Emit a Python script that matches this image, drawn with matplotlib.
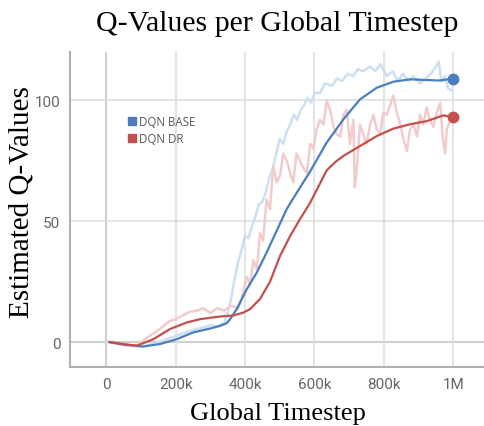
import numpy as np
import matplotlib.pyplot as plt
from matplotlib.lines import Line2D

# Q-values per global timestep
# x values in thousands of timesteps

# raw (faint) curves
base_raw_x = [10, 40, 70, 100, 130, 160, 190, 220, 250, 280, 300, 320, 340, 350,
              360, 370, 380, 390, 400, 410, 420, 430, 440, 450, 460, 470, 480,
              490, 500, 510, 520, 530, 540, 550, 560, 570, 580, 590, 600, 616,
              630, 650, 665, 680, 695, 711, 725, 740, 760, 775, 790, 808, 825,
              840, 855, 870, 885, 904, 920, 935, 950, 958, 965, 975, 985, 995]
base_raw_y = [0, -1, -1.5, -2, -1, 0.5, 2, 3.5, 5, 6, 7, 6.5, 8, 12,
              18, 26, 33, 38, 44, 43, 48, 52, 57, 58, 62, 68, 72,
              78, 84, 82, 87, 90, 94, 92, 96, 98, 101, 99, 103, 103,
              107, 106, 109, 108, 111, 110, 113, 112, 114, 112, 115, 110, 112,
              108, 111, 108, 110, 107, 109, 111, 114, 116, 108, 110, 105, 104]

dr_raw_x = [10, 40, 70, 90, 100, 120, 140, 160, 180, 200, 220, 240, 260, 280,
            300, 320, 340, 360, 380, 390, 405, 415, 424, 434, 443, 452, 462,
            472, 481, 491, 501, 510, 520, 530, 539, 548, 558, 568, 578, 588,
            597, 606, 616, 626, 635, 645, 655, 664, 674, 683, 693, 702, 712,
            716, 721, 731, 740, 750, 760, 770, 779, 789, 798, 808, 818, 827,
            837, 847, 856, 866, 875, 885, 895, 904, 913, 923, 932, 942, 952,
            962, 969, 976, 981, 986, 995]
dr_raw_y = [0, -1, -1.5, -1.5, 0, 2, 4, 6, 8.5, 9.5, 11, 12.5, 13, 14,
            12, 14, 13, 15, 14, 18, 27, 24, 34, 30, 45, 42, 59,
            55, 73, 66, 69, 78, 75, 70, 66, 78, 75, 72, 70, 82,
            80, 88, 92, 90, 100, 96, 89, 86, 85, 94, 96, 82, 92,
            64, 70, 90, 86, 82, 90, 94, 88, 86, 95, 94, 98, 102,
            95, 90, 84, 79, 88, 90, 85, 94, 90, 97, 92, 89, 95,
            99, 85, 78, 88, 90, 93]

# smoothed curves
base_x = [10, 50, 107, 155, 203, 251, 299, 328, 347, 357, 376, 405, 434, 462,
          491, 520, 539, 587, 635, 683, 731, 779, 827, 875, 923, 960, 1000]
base_y = [0, -1, -1.8, -0.8, 1.2, 4, 5.6, 6.7, 7.8, 9.5, 13.6, 21.9, 28.8, 37,
          46, 55, 59.5, 70.5, 82.5, 92.1, 100.4, 105.2, 107.7, 108.7, 108.4, 108.2, 109]

dr_x = [10, 50, 88, 136, 184, 232, 271, 328, 366, 395, 414, 443, 472, 501,
        530, 558, 587, 635, 660, 683, 731, 779, 827, 875, 923, 971, 1000]
dr_y = [0, -0.8, -1.5, 1.2, 5.4, 8.1, 9.5, 10.6, 11, 12.2, 13.6, 17.8, 25, 35.7,
        43.9, 50.8, 57.5, 71, 74.5, 77, 81.1, 85.2, 88.3, 90.1, 91.4, 93.8, 93]

xticks = [0, 200, 400, 600, 800, 1000]
xtick_labels = ['0', '200k', '400k', '600k', '800k', '1M']
yticks = [0, 50, 100]

blue = '#4a7ebf'
red = '#c4504d'

fig = plt.figure(figsize=(4.85, 4.27), dpi=100)
ax = fig.add_axes([70/485, 59/427, 415/485, 315/427])

ax.plot(np.array(base_raw_x)*1000, base_raw_y, color='#cddff2', lw=1.8, zorder=2)
ax.plot(np.array(dr_raw_x)*1000, dr_raw_y, color='#f2cccc', lw=1.8, zorder=2)
ax.plot(np.array(base_x)*1000, base_y, color=blue, lw=1.6, zorder=4,
        solid_joinstyle='round')
ax.plot(np.array(dr_x)*1000, dr_y, color=red, lw=1.6, zorder=4,
        solid_joinstyle='round')
ax.plot(base_x[-1]*1000, base_y[-1], 'o', color=blue, ms=7.5, zorder=5)
ax.plot(dr_x[-1]*1000, dr_y[-1], 'o', color=red, ms=7.5, zorder=5)

ax.set_xlim(-104000, 1091000)
ax.set_ylim(-10.3, 120)
ax.set_xticks([t*1000 for t in xticks])
ax.set_xticklabels(xtick_labels)
ax.set_yticks(yticks)

ax.grid(True, color='#dddddd', lw=1.1, zorder=0)
ax.axhline(0, color='#a8a8a8', lw=1.5, zorder=1)
ax.axvline(0, color='#a8a8a8', lw=1.5, zorder=1)
for s in ['top', 'right']:
    ax.spines[s].set_visible(False)
for s in ['left', 'bottom']:
    ax.spines[s].set_color('#b0b0b0')
    ax.spines[s].set_linewidth(1.5)
ax.tick_params(length=0, pad=7, labelcolor='#666666', labelsize=11)
for lab in ax.get_xticklabels() + ax.get_yticklabels():
    lab.set_family('Roboto')

ax.set_title('Q-Values per Global Timestep', family='Liberation Serif',
             fontsize=21.5, pad=16)
ax.set_xlabel('Global Timestep', family='Liberation Serif', fontsize=19)
ax.set_ylabel('Estimated Q-Values', family='Liberation Serif', fontsize=21)
ax.xaxis.set_label_coords(0.5, -0.112)
ax.yaxis.set_label_coords(-0.085, 0.527)

handles = [Line2D([], [], marker='s', ls='', color=blue, ms=5.5),
           Line2D([], [], marker='s', ls='', color=red, ms=5.5)]
leg = ax.legend(handles, ['DQN BASE', 'DQN DR'], loc='upper left',
                bbox_to_anchor=(0.13, 0.815), frameon=False, handlelength=0.6,
                handletextpad=0.3, labelspacing=0.4, borderaxespad=0,
                prop={'family': 'Open Sans', 'size': 8.3})
for t in leg.get_texts():
    t.set_color('#555555')

fig.savefig('out.png', dpi=100)
